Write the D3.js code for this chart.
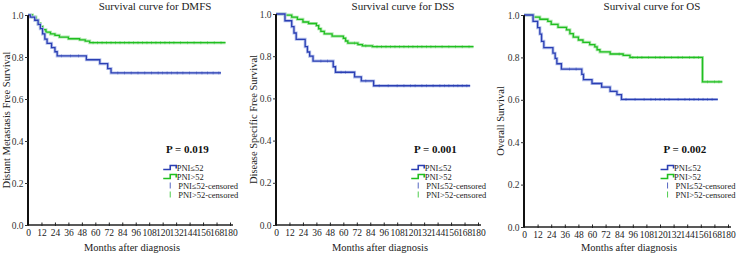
<!DOCTYPE html>
<html>
<head>
<meta charset="utf-8">
<script src="https://cdn.jsdelivr.net/npm/d3@7"></script>
<style>
  body { margin: 0; background: #fff; }
</style>
</head>
<body>
<div id="chart"></div>
<script>
// tick values
const monthTicks = d3.range(0, 181, 12);
const survTicks = [0, 0.2, 0.4, 0.6, 0.8, 1.0];

// step curves: [month, survival]
const dmfsLow = [[0,1],[2,0.99],[6,0.975],[9,0.955],[11,0.935],[13,0.91],[15,0.885],[17,0.865],[21,0.845],[24,0.825],[26,0.805],[52,0.787],[64,0.768],[71,0.745],[74,0.724],[172,0.724]];
const dmfsHigh = [[0,1],[4,0.99],[7,0.975],[9,0.96],[11,0.945],[13,0.93],[16,0.918],[20,0.91],[24,0.903],[28,0.895],[36,0.887],[46,0.882],[51,0.876],[55,0.868],[176,0.868]];
const dssLow = [[0,1],[8,0.968],[14,0.94],[16,0.91],[18,0.88],[26,0.845],[28,0.82],[30,0.8],[33,0.777],[51,0.75],[53,0.724],[70,0.702],[76,0.683],[87,0.66],[173,0.66]];
const dssHigh = [[0,1],[8,0.995],[14,0.985],[19,0.975],[24,0.962],[29,0.955],[36,0.945],[38,0.93],[40,0.918],[43,0.906],[50,0.895],[60,0.885],[62,0.872],[64,0.862],[73,0.855],[77,0.849],[86,0.845],[176,0.845]];
const osLow = [[0,1],[8,0.97],[12,0.94],[14,0.91],[15.5,0.876],[17.5,0.846],[25.5,0.82],[27.5,0.795],[29,0.77],[33,0.745],[51,0.72],[52.5,0.695],[60,0.677],[68.5,0.66],[76,0.64],[82,0.624],[86,0.602],[171,0.602]];
const osHigh = [[0,1],[8,0.99],[14,0.98],[21,0.97],[24,0.956],[30,0.942],[37.5,0.93],[40.5,0.912],[43.5,0.896],[48,0.882],[52,0.871],[58,0.86],[62.5,0.85],[64.5,0.836],[67,0.826],[76,0.816],[87.5,0.81],[93.5,0.8],[157,0.8],[157.5,0.685],[175,0.685]];

// censored times
const dmfsLowCens = [30,38,45,80,86,92,98,104,110,116,120,124,128,133,138,144,150,155,160,165,170];
const dmfsHighCens = [58,62,66,70,74,78,82,86,90,94,98,102,106,110,114,118,122,126,130,136,142,148,154,160,166,172];
const dssLowCens = [40,46,58,62,80,92,100,108,114,120,124,130,134,140,146,150,154,158,162,166,170];
const dssHighCens = [70,80,90,94,98,102,106,110,114,118,122,126,130,134,138,142,148,154,160,166,172];
const osLowCens = [40,46,90,98,106,112,116,120,124,128,136,142,146,150,154,158,162,166];
const osHighCens = [84,96,100,104,110,116,120,124,130,136,140,146,150,154,162,168,172];

const panels = [
  { title: "Survival curve for DMFS", ylab: "Distant Metastasis Free Survival", p: "P = 0.019",
    x0: 28, x1: 230, yTop: 15, yBot: 225, low: dmfsLow, high: dmfsHigh, lowC: dmfsLowCens, highC: dmfsHighCens, ylx: 6 },
  { title: "Survival curve for DSS", ylab: "Disease Specific Free Survival", p: "P = 0.001",
    x0: 276, x1: 478, yTop: 14, yBot: 225, low: dssLow, high: dssHigh, lowC: dssLowCens, highC: dssHighCens, ylx: 253 },
  { title: "Survival curve for OS", ylab: "Overall Survival", p: "P = 0.002",
    x0: 524, x1: 728, yTop: 15, yBot: 227, low: osLow, high: osHigh, lowC: osLowCens, highC: osHighCens, ylx: 500 }
];

const serif = '"Liberation Serif", "DejaVu Serif", "Times New Roman", serif';
const blue = "#2b3fb3", blueHalo = "#b4c0ec";
const green = "#20bf20", greenHalo = "#b0e8b0";

const svg = d3.select("#chart").append("svg")
  .attr("width", 738).attr("height", 255);

function stepAt(curve, t) {
  let v = curve[0][1];
  curve.forEach(d => { if (d[0] <= t) v = d[1]; });
  return v;
}

panels.forEach(pn => {
  const x = d3.scaleLinear().domain([0, 180]).range([pn.x0, pn.x1]);
  const y = d3.scaleLinear().domain([0, 1]).range([pn.yBot, pn.yTop]);
  const g = svg.append("g");

  const line = d3.line().x(d => x(d[0])).y(d => y(d[1])).curve(d3.curveStepAfter);

  [[pn.high, pn.highC, green, greenHalo], [pn.low, pn.lowC, blue, blueHalo]].forEach(([curve, cens, col, halo]) => {
    g.append("path").datum(curve)
      .attr("fill", "none").attr("stroke", halo).attr("stroke-width", 3).attr("d", line);
    g.append("path").datum(curve)
      .attr("fill", "none").attr("stroke", col).attr("stroke-width", 1.3).attr("d", line);
    g.selectAll(null).data(cens).enter().append("line")
      .attr("x1", d => x(d)).attr("x2", d => x(d))
      .attr("y1", d => y(stepAt(curve, d)) - 1.5)
      .attr("y2", d => y(stepAt(curve, d)) + 1.5)
      .attr("stroke", col).attr("stroke-width", 0.6).attr("opacity", 0.7);
  });

  // axes
  const xAxis = g.append("g").attr("transform", `translate(0,${pn.yBot})`)
    .call(d3.axisBottom(x).tickValues(monthTicks).tickSize(0).tickPadding(4));
  xAxis.select(".domain").remove();
  xAxis.append("line").attr("x1", pn.x0).attr("x2", pn.x1 + 3)
    .attr("stroke", "#222").attr("stroke-width", 1.6);
  xAxis.selectAll(".tick").append("line").attr("y1", -2.5).attr("y2", 1)
    .attr("stroke", "#222").attr("stroke-width", 1);
  xAxis.selectAll("text").attr("fill", "#222")
    .style("font-family", serif).style("font-size", "9.5px");

  const yAxis = g.append("g").attr("transform", `translate(${pn.x0},0)`)
    .call(d3.axisLeft(y).tickValues(survTicks).tickFormat(d3.format(".1f")).tickSize(3).tickPadding(1.5));
  yAxis.select(".domain").attr("stroke", "#111").attr("stroke-width", 2)
    .attr("d", `M0,${pn.yBot}V${pn.yTop}`);
  yAxis.selectAll(".tick line").attr("stroke", "#333");
  yAxis.selectAll("text").attr("fill", "#333")
    .style("font-family", serif).style("font-size", "9.5px");

  // texts
  const mid = (pn.x0 + pn.x1) / 2;
  g.append("text").attr("x", mid + 26).attr("y", 10).attr("text-anchor", "middle")
    .style("font-family", serif).style("font-size", "11px").attr("fill", "#222").text(pn.title);
  g.append("text").attr("x", mid + 3).attr("y", 251).attr("text-anchor", "middle")
    .style("font-family", serif).style("font-size", "10.5px").attr("fill", "#222").text("Months after diagnosis");
  g.append("text").attr("transform", `translate(${pn.ylx},${(pn.yTop + pn.yBot) / 2}) rotate(-90)`)
    .attr("dy", "0.35em").attr("text-anchor", "middle")
    .style("font-family", serif).style("font-size", "10.5px").attr("fill", "#222").text(pn.ylab);
  g.append("text").attr("x", x(142)).attr("y", 153).attr("text-anchor", "middle")
    .style("font-family", serif).style("font-size", "11px").style("font-weight", "bold")
    .attr("fill", "#111").text(pn.p);

  // legend
  const lx = x(120.5), ly = 168;
  const items = [
    { label: "PNI≤52", col: blue, type: "step" },
    { label: "PNI>52", col: green, type: "step" },
    { label: "PNI≤52-censored", col: blue, type: "cens" },
    { label: "PNI>52-censored", col: green, type: "cens" }
  ];
  items.forEach((it, i) => {
    const yy = ly + i * 9;
    if (it.type === "step") {
      g.append("path").attr("d", `M${lx},${yy + 1.5}H${lx + 7}V${yy - 2.5}H${lx + 13}V${yy + 0.5}`)
        .attr("fill", "none").attr("stroke", it.col).attr("stroke-width", 1.6);
    } else {
      g.append("line").attr("x1", lx + 7).attr("x2", lx + 7).attr("y1", yy - 3.5).attr("y2", yy + 2.5)
        .attr("stroke", it.col).attr("stroke-width", 0.8);
    }
    g.append("text").attr("x", it.type === "step" ? lx + 13.5 : lx + 15).attr("y", yy + 3)
      .style("font-family", serif).style("font-size", "8.5px").attr("fill", "#222").text(it.label);
  });
});
</script>
</body>
</html>
